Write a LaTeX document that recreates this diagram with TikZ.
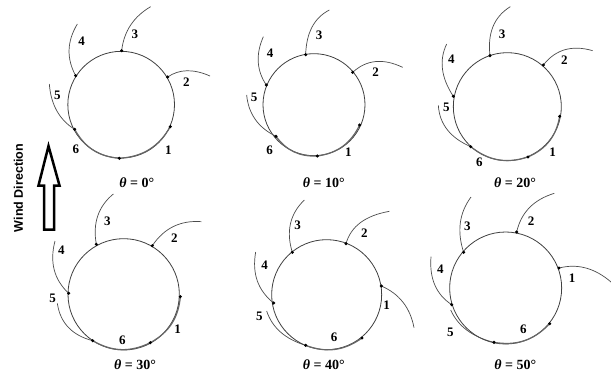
\documentclass[tikz,border=0pt]{standalone}
\usepackage{fontspec}
\usetikzlibrary{calc}
\setmainfont{Liberation Serif}
\newfontfamily\windfont{Liberation Sans}
\tikzset{
  ring/.style={draw=black!75,line width=0.8pt},
  vane/.style={draw=black!70,line width=0.7pt},
  innerblade/.style={draw=black!60,line width=1.2pt},
  hubdot/.style={circle,fill=black,inner sep=0pt,minimum size=3.4pt},
  num/.style={font=\bfseries\fontsize{13}{13}\selectfont,inner sep=0pt},
  ang/.style={font=\bfseries\fontsize{14}{14}\selectfont,inner sep=0pt},
}
\newcommand{\thetalabel}[1]{{\itshape θ} = #1°}
% id, shift, centre, radius, dots, vanes, labels, inner arcs
\newcommand{\rotor}[8]{%
  \begin{scope}[shift={(#2)},x=0.33333pt,y=-0.33333pt]
    \draw[ring] (#3) circle [radius=#4];
    \foreach \vn/\px/\py in {#5} \coordinate (#1d\vn) at (\px,\py);
    \foreach \vn/\cx/\cy/\ex/\ey in {#6} {
      \coordinate (#1e\vn) at (\ex,\ey);
      \coordinate (#1c\vn) at (\cx,\cy);
      \draw[vane] (#1d\vn) .. controls ($(#1d\vn)!0.667!(#1c\vn)$) and ($(#1e\vn)!0.667!(#1c\vn)$) .. (#1e\vn);
    }
    \foreach \vn/\px/\py in {#7} \node[num] (#1n\vn) at (\px,\py) {\vn};
    \foreach \ua/\ub in {#8} \draw[innerblade] (#1d\ua) to[bend left=28] (#1d\ub);
    \foreach \vn/\px/\py in {#5} \node[hubdot] (#1p\vn) at (#1d\vn) {};
  \end{scope}}
\begin{document}
\begin{tikzpicture}[x=1pt,y=-1pt]
  \useasboundingbox (0,0) rectangle (611,376);
  \fill[white] (0,0) rectangle (611,376);
  \rotor{a}{0,0}{363.5,314}{160}
    {3/365/152,2/503/231,1/511/380,6/358/475,5/224/388,4/227/227}
    {3/375/65/452/20,2/555/195/630/228,4/185/150/232/72,5/155/345/148/252}
    {3/405/102,4/245/125,2/559/248,5/172/286,6/228/448,1/505/451}
    {1/6,6/5}
  \rotor{b}{210,0}{312,314}{153}
    {3/287/164,2/428/217,1/449/375,6/322/468,5/198/409,4/169/255}
    {3/290/65/358/30,2/490/160/578/202,4/125/190/160/110,5/118/370/110/285}
    {3/327/107,4/180/160,2/497/216,5/132/291,6/179/450,1/415/456}
    {1/6,6/5}
  \rotor{c}{420,0}{262,320}{162}
    {3/210/167,2/370/195,1/419/349,6/324/471,5/152/440,4/100/289}
    {3/198/65/271/20,2/425/125/518/152,4/45/205/80/132,5/60/400/55/316}
    {3/246/103,4/94/178,2/433/180,5/79/322,6/178/488,1/398/456}
    {1/6,6/5}
  \rotor{d}{0,186}{371,325}{167}
    {3/289/175,2/457/179,1/541/332,6/451/470,5/278/464,4/206/322}
    {3/272/80/340/24,2/510/100/604/107,4/140/260/165/165,5/185/440/172/352}
    {3/322/106,2/523/158,4/184/193,5/158/336,6/367/464,1/533/429}
    {1/6,6/5}
  \rotor{e}{210,186}{350,326}{165}
    {3/247/199,2/408/173,1/514/300,6/456/456,5/287/478,4/191/351}
    {3/218/105/283/42,2/430/95/538/76,1/595/335/612/425,4/120/295/137/198,5/195/450/170/375}
    {3/263/119,2/463/142,4/164/239,1/530/359,5/148/390,6/372/455}
    {6/5}
  \rotor{f}{420,186}{257,306}{168}
    {3/131/199,2/290/138,1/417/246,6/389/413,5/222/469,4/95/356}
    {3/100/105/153/33,2/310/50/403/22,1/500/225/573/288,4/25/310/33/212,5/125/445/92/372}
    {3/142/120,2/333/105,4/61/249,1/456/277,5/91/439,6/310/429}
    {6/5}
  \node[ang] (ta) at (136.7,182.3) {\thetalabel{0}};
  \node[ang] (tb) at (323.7,182.3) {\thetalabel{10}};
  \node[ang] (tc) at (515,182.3) {\thetalabel{20}};
  \node[ang] (td) at (135,365) {\thetalabel{30}};
  \node[ang] (te) at (323.7,365) {\thetalabel{40}};
  \node[ang] (tf) at (515.3,365) {\thetalabel{50}};
  \draw[line width=2.5pt,black,line join=miter]
    (48.5,146) -- (38.5,185.5) -- (44,185.5) -- (44,229.5) -- (54,229.5) -- (54,185.5) -- (59.5,185.5) -- cycle;
  \node[rotate=90,inner sep=0pt,font=\windfont\bfseries\fontsize{12.5}{12.5}\selectfont] (wind) at (18.5,188) {Wind Direction};
\end{tikzpicture}
\end{document}
